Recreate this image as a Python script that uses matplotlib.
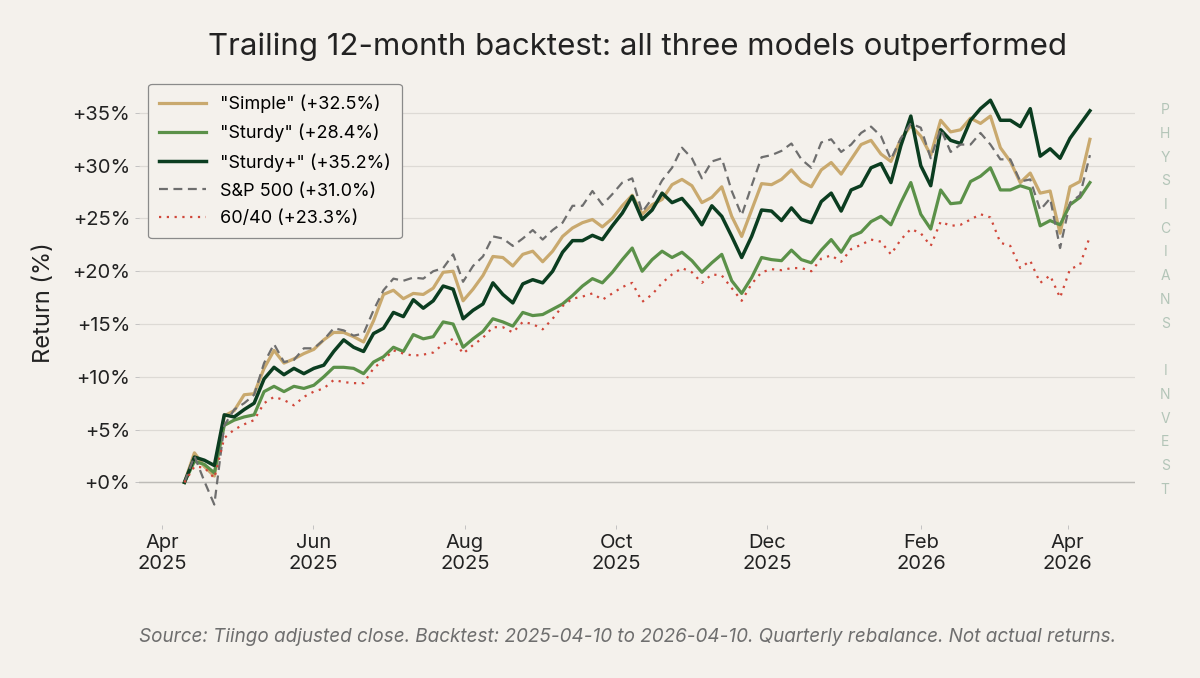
import matplotlib
matplotlib.use("Agg")
import matplotlib.pyplot as plt
import matplotlib.dates as mdates
from matplotlib.ticker import FuncFormatter
import pandas as pd

plt.rcParams['font.family'] = ['Inter', 'DejaVu Sans']

# data (cumulative return, %), sampled about every 4 days
start, end, n_points = "2025-04-10", "2026-04-10", 92

simple = [0.0, 2.8, 1.5, 0.6, 6.3, 6.8, 8.3, 8.4, 10.8, 12.5,
          11.3, 11.7, 12.2, 12.6, 13.5, 14.2, 14.2, 13.8, 13.3, 15.3,
          17.8, 18.2, 17.4, 17.9, 17.8, 18.4, 19.9, 20.0, 17.2, 18.3,
          19.6, 21.4, 21.3, 20.5, 21.6, 21.9, 20.9, 21.9, 23.3, 24.1,
          24.6, 24.9, 24.2, 25.0, 26.2, 27.2, 25.4, 26.3, 26.8, 28.2,
          28.7, 28.1, 26.5, 27.0, 28.0, 25.2, 23.3, 25.8, 28.3, 28.2,
          28.7, 29.6, 28.5, 28.0, 29.6, 30.3, 29.2, 30.6, 32.0, 32.4,
          31.1, 30.4, 32.5, 33.8, 32.8, 31.0, 34.3, 33.2, 33.4, 34.5,
          34.0, 34.7, 31.7, 30.4, 28.4, 29.3, 27.4, 27.6, 23.6, 28.0,
          28.5, 32.5]

sturdy = [0.0, 2.0, 1.7, 0.9, 5.4, 5.9, 6.2, 6.4, 8.6, 9.1,
          8.6, 9.1, 8.9, 9.2, 10.0, 10.9, 10.9, 10.8, 10.3, 11.4,
          11.9, 12.8, 12.4, 14.0, 13.6, 13.8, 15.2, 15.0, 12.8, 13.6,
          14.3, 15.5, 15.2, 14.8, 16.1, 15.8, 15.9, 16.4, 16.9, 17.7,
          18.6, 19.3, 18.9, 19.9, 21.1, 22.2, 20.0, 21.1, 21.9, 21.3,
          21.8, 21.0, 19.9, 20.8, 21.6, 19.1, 17.9, 19.4, 21.3, 21.1,
          21.0, 22.0, 21.1, 20.8, 22.0, 23.0, 21.8, 23.3, 23.7, 24.7,
          25.2, 24.4, 26.5, 28.4, 25.4, 24.0, 27.7, 26.4, 26.5, 28.5,
          29.0, 29.8, 27.7, 27.7, 28.1, 27.8, 24.3, 24.8, 24.4, 26.3,
          27.0, 28.4]

sturdy_plus = [0.0, 2.4, 2.1, 1.6, 6.4, 6.2, 6.9, 7.5, 9.8, 10.9,
               10.2, 10.8, 10.3, 10.8, 11.1, 12.4, 13.5, 12.8, 12.4, 14.1,
               14.6, 16.1, 15.7, 17.3, 16.5, 17.2, 18.6, 18.3, 15.5, 16.3,
               16.9, 18.9, 17.8, 17.0, 18.8, 19.2, 18.9, 20.0, 21.8, 22.9,
               22.9, 23.4, 23.0, 24.3, 25.5, 27.1, 24.9, 25.8, 27.4, 26.5,
               26.9, 25.8, 24.4, 26.2, 25.2, 23.3, 21.3, 23.3, 25.8, 25.7,
               24.8, 26.0, 24.9, 24.6, 26.6, 27.4, 25.7, 27.7, 28.1, 29.8,
               30.2, 28.4, 31.9, 34.7, 30.0, 28.1, 33.4, 32.4, 32.1, 34.3,
               35.4, 36.2, 34.3, 34.3, 33.7, 35.4, 30.9, 31.6, 30.7, 32.6,
               33.9, 35.2]

sp500 = [0.0, 2.5, 0.1, -2.1, 5.4, 6.9, 7.5, 8.3, 11.3, 13.1,
         11.4, 11.6, 12.7, 12.7, 13.5, 14.6, 14.4, 13.9, 14.1, 16.3,
         18.2, 19.3, 19.1, 19.4, 19.3, 20.0, 20.3, 21.6, 19.0, 20.5,
         21.4, 23.3, 23.1, 22.4, 23.1, 23.9, 23.0, 23.9, 24.6, 26.2,
         26.2, 27.6, 26.3, 27.3, 28.4, 28.8, 25.6, 26.9, 28.6, 29.8,
         31.7, 30.7, 28.8, 30.4, 30.7, 27.6, 25.3, 28.1, 30.8, 31.0,
         31.4, 32.1, 30.6, 29.8, 32.2, 32.5, 31.3, 32.0, 33.1, 33.7,
         32.8, 30.6, 32.6, 34.0, 33.6, 30.7, 33.5, 31.3, 32.0, 32.0,
         33.1, 32.0, 30.6, 30.6, 28.5, 28.7, 25.8, 26.9, 22.2, 26.5,
         27.2, 31.0]

sixty_forty = [0.0, 1.5, 1.4, 0.4, 4.2, 5.0, 5.5, 5.9, 7.5, 8.1,
               7.8, 7.3, 8.1, 8.6, 8.9, 9.7, 9.5, 9.4, 9.4, 10.8,
               11.6, 12.5, 12.2, 12.0, 12.1, 12.3, 13.1, 13.6, 12.2, 13.0,
               13.7, 14.7, 14.7, 14.2, 15.2, 15.0, 14.5, 15.5, 16.7, 17.4,
               17.6, 17.9, 17.3, 17.9, 18.5, 18.9, 17.1, 17.8, 18.9, 19.7,
               20.3, 19.9, 18.9, 19.7, 19.6, 18.4, 17.2, 18.8, 19.9, 20.2,
               20.1, 20.3, 20.3, 20.0, 21.2, 21.5, 20.9, 22.1, 22.5, 23.0,
               22.8, 21.6, 23.0, 24.0, 23.6, 22.4, 24.7, 24.3, 24.4, 24.9,
               25.4, 25.1, 22.7, 22.4, 20.3, 21.0, 18.9, 19.6, 17.5, 20.2,
               20.6, 23.3]

labels = ['"Simple" (+32.5%)', '"Sturdy" (+28.4%)', '"Sturdy+" (+35.2%)',
          'S&P 500 (+31.0%)', '60/40 (+23.3%)']

dates = pd.date_range(start, end, periods=n_points)

bg = "#F4F1EC"
fig = plt.figure(figsize=(12, 6.78), dpi=100, facecolor=bg)
ax = fig.add_axes([0.116, 0.226, 0.830, 0.656], facecolor=bg)

ax.plot(dates, simple, color="#C9A96E", lw=2.3, label=labels[0])
ax.plot(dates, sturdy, color="#5B9149", lw=2.3, label=labels[1])
ax.plot(dates, sturdy_plus, color="#0B3D20", lw=2.5, label=labels[2])
ax.plot(dates, sp500, color="#6E6E6E", lw=1.6, ls=(0, (4, 2.5)), label=labels[3])
ax.plot(dates, sixty_forty, color="#D0473A", lw=1.6, ls=(0, (1, 2.5)), label=labels[4])

ax.set_yticks(range(0, 36, 5))
ax.yaxis.set_major_formatter(FuncFormatter(lambda v, p: f"+{v:.0f}%"))
ax.xaxis.set_major_locator(mdates.MonthLocator(bymonth=[2, 4, 6, 8, 10, 12]))
ax.xaxis.set_major_formatter(mdates.DateFormatter("%b\n%Y"))

ax.grid(axis="y", color="#DDDAD5", lw=0.9)
ax.axhline(0, color="#BDBBB7", lw=1.0, zorder=1)
ax.set_axisbelow(True)
for s in ax.spines.values():
    s.set_visible(False)
ax.tick_params(axis="both", labelsize=14.5, colors="#222222", length=3,
               width=0.6, color="#BBBBBB")
ax.tick_params(axis="x", pad=4)

ax.set_ylabel("Return (%)", fontsize=17, color="#222222", labelpad=12)
ax.set_title("Trailing 12-month backtest: all three models outperformed",
             fontsize=22.5, color="#222222", pad=18)

leg = ax.legend(loc="upper left", fontsize=13, frameon=True, handlelength=2.6,
                labelspacing=0.6, borderpad=0.6, bbox_to_anchor=(0.0, 1.012))
leg.get_frame().set_facecolor(bg)
leg.get_frame().set_edgecolor("#8A8A8A")
leg.get_frame().set_linewidth(0.9)
leg.get_frame().set_alpha(1)

fig.text(0.116, 0.06, "Source: Tiingo adjusted close. Backtest: 2025-04-10 to 2026-04-10. "
         "Quarterly rebalance. Not actual returns.", fontsize=13.6, style="italic",
         color="#6E6E6E", ha="left", va="center")

# vertical watermark
mark = "PHYSICIANS INVEST"
for k, ch in enumerate(mark):
    fig.text(0.971, 1 - (110 + k * 23.75) / 678, ch, fontsize=10,
             color="#B3C5B8", ha="center", va="center")

fig.savefig("out.png", dpi=100, facecolor=bg)
